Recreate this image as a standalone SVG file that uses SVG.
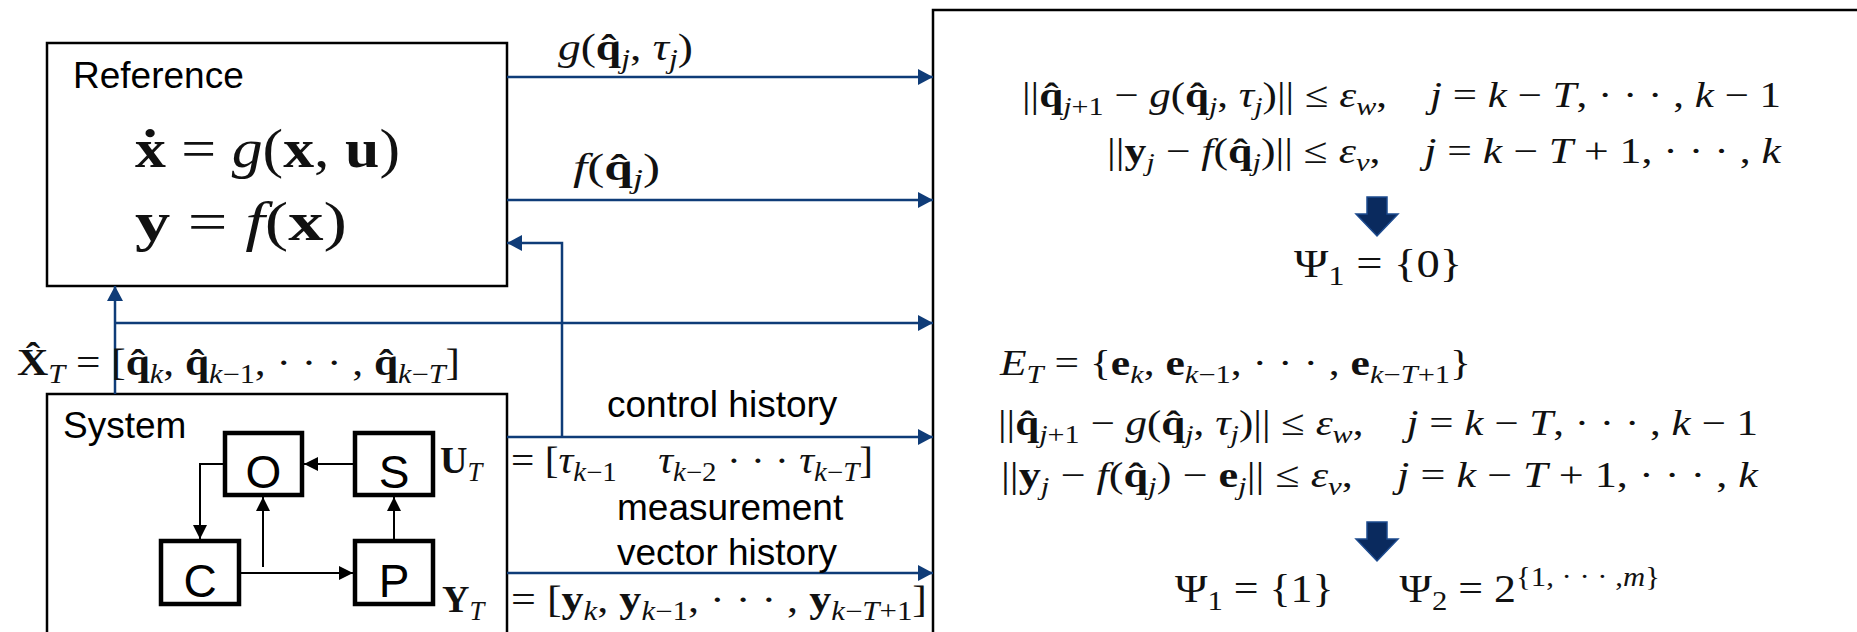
<svg xmlns="http://www.w3.org/2000/svg" width="1857" height="632" viewBox="0 0 1857 632">
<style>
.box{fill:#fff;stroke:#000;stroke-width:2.5}
.blk{fill:#fff;stroke:#000;stroke-width:4.5}
.lbl{font-family:"Liberation Sans",Arial,sans-serif;font-size:37px;fill:#000}
.big{font-family:"Liberation Sans",Arial,sans-serif;font-size:46px;fill:#000;text-anchor:middle}
.m{font-family:"Liberation Serif","DejaVu Serif",serif;fill:#111}
.i{font-style:italic}
.b{font-weight:bold}
.s{font-size:70%}
.bl{fill:none;stroke:#0f3c78;stroke-width:2.5}
.kl{fill:none;stroke:#000;stroke-width:2}
.darr{fill:#0a2a5e;stroke:#1d4b8f;stroke-width:1.5}
</style>
<defs>
<marker id="ab" viewBox="0 0 15 16" refX="15" refY="8" markerWidth="15" markerHeight="16" markerUnits="userSpaceOnUse" orient="auto"><path d="M0,0 L15,8 L0,16 Z" fill="#0f3c78"/></marker>
<marker id="ak" viewBox="0 0 14 14" refX="14" refY="7" markerWidth="14" markerHeight="14" markerUnits="userSpaceOnUse" orient="auto"><path d="M0,0 L14,7 L0,14 Z" fill="#000"/></marker>
</defs>
<rect width="1857" height="632" fill="#fff"/>

<g id="estimator">
<rect class="box" x="933" y="10" width="1000" height="700"/>
</g>

<g id="reference">
<rect class="box" x="47" y="43" width="460" height="243"/>
<text class="lbl" x="73" y="88">Reference</text>
<text class="m" x="135" y="167" font-size="54" textLength="265" lengthAdjust="spacingAndGlyphs"><tspan class="b">x&#x307;</tspan> = <tspan class="i">g</tspan>(<tspan class="b">x</tspan>, <tspan class="b">u</tspan>)</text>
<text class="m" x="135" y="240" font-size="54" textLength="212" lengthAdjust="spacingAndGlyphs"><tspan class="b">y</tspan> = <tspan class="i">f</tspan>(<tspan class="b">x</tspan>)</text>
</g>

<g id="system">
<rect class="box" x="47" y="394" width="460" height="300"/>
<text class="lbl" x="63" y="438">System</text>
</g>

<g id="node-O"><rect class="blk" x="225" y="433" width="77" height="62"/><text class="big" x="263.5" y="488">O</text></g>
<g id="node-S"><rect class="blk" x="355" y="433" width="78" height="62"/><text class="big" x="394" y="488">S</text></g>
<g id="node-C"><rect class="blk" x="161" y="541" width="78" height="63"/><text class="big" x="200" y="597">C</text></g>
<g id="node-P"><rect class="blk" x="355" y="541" width="78" height="63"/><text class="big" x="394" y="597">P</text></g>

<g id="connectors">
<path class="bl" d="M507,77 H933" marker-end="url(#ab)"/>
<path class="bl" d="M507,200 H933" marker-end="url(#ab)"/>
<path class="bl" d="M562,437 V243 H507" marker-end="url(#ab)"/>
<path class="bl" d="M115,394 V286" marker-end="url(#ab)"/>
<path class="bl" d="M115,323 H933" marker-end="url(#ab)"/>
<path class="bl" d="M507,437 H933" marker-end="url(#ab)"/>
<path class="bl" d="M507,573 H933" marker-end="url(#ab)"/>
<path class="kl" d="M353,464 H304" marker-end="url(#ak)"/>
<path class="kl" d="M223,464 H200 V539" marker-end="url(#ak)"/>
<path class="kl" d="M241,573 H353" marker-end="url(#ak)"/>
<path class="kl" d="M263,567 V497" marker-end="url(#ak)"/>
<path class="kl" d="M394,539 V497" marker-end="url(#ak)"/>
</g>

<g id="labels">
<text class="m" x="558" y="60" font-size="38" textLength="135" lengthAdjust="spacingAndGlyphs"><tspan class="i">g</tspan>(<tspan class="b">q&#x302;</tspan><tspan class="s i" dy="8">j</tspan><tspan dy="-8">, </tspan><tspan class="i">τ</tspan><tspan class="s i" dy="8">j</tspan><tspan dy="-8">)</tspan></text>
<text class="m" x="573" y="180" font-size="38" textLength="87" lengthAdjust="spacingAndGlyphs"><tspan class="i">f</tspan>(<tspan class="b">q&#x302;</tspan><tspan class="s i" dy="8">j</tspan><tspan dy="-8">)</tspan></text>
<text class="m" x="17" y="375" font-size="38" textLength="443" lengthAdjust="spacingAndGlyphs"><tspan class="b">X&#x302;</tspan><tspan class="s i" dy="8">T</tspan><tspan dy="-8"> = [</tspan><tspan class="b">q&#x302;</tspan><tspan class="s" dy="8"><tspan class="i">k</tspan></tspan><tspan dy="-8">, </tspan><tspan class="b">q&#x302;</tspan><tspan class="s" dy="8"><tspan class="i">k</tspan>−1</tspan><tspan dy="-8">, · · · , </tspan><tspan class="b">q&#x302;</tspan><tspan class="s" dy="8"><tspan class="i">k</tspan>−<tspan class="i">T</tspan></tspan><tspan dy="-8">]</tspan></text>
<text class="lbl" x="607" y="417">control history</text>
<text class="m" x="440" y="473" font-size="38"><tspan class="b">U</tspan><tspan class="s i" dy="8">T</tspan></text>
<text class="m" x="511" y="473" font-size="38" textLength="362" lengthAdjust="spacingAndGlyphs">= [<tspan class="i">τ</tspan><tspan class="s" dy="8"><tspan class="i">k</tspan>−1</tspan><tspan dy="-8">&#x2003;</tspan><tspan class="i">τ</tspan><tspan class="s" dy="8"><tspan class="i">k</tspan>−2</tspan><tspan dy="-8"> · · · </tspan><tspan class="i">τ</tspan><tspan class="s" dy="8"><tspan class="i">k</tspan>−<tspan class="i">T</tspan></tspan><tspan dy="-8">]</tspan></text>
<text class="lbl" x="617" y="520">measurement</text>
<text class="lbl" x="617" y="565">vector history</text>
<text class="m" x="442" y="612" font-size="38"><tspan class="b">Y</tspan><tspan class="s i" dy="8">T</tspan></text>
<text class="m" x="511" y="612" font-size="38" textLength="416" lengthAdjust="spacingAndGlyphs">= [<tspan class="b">y</tspan><tspan class="s" dy="8"><tspan class="i">k</tspan></tspan><tspan dy="-8">, </tspan><tspan class="b">y</tspan><tspan class="s" dy="8"><tspan class="i">k</tspan>−1</tspan><tspan dy="-8">, · · · , </tspan><tspan class="b">y</tspan><tspan class="s" dy="8"><tspan class="i">k</tspan>−<tspan class="i">T</tspan>+1</tspan><tspan dy="-8">]</tspan></text>
</g>

<g id="conditions">
<text class="m" x="1022" y="107" font-size="36" textLength="759" lengthAdjust="spacingAndGlyphs">||<tspan class="b">q&#x302;</tspan><tspan class="s" dy="8"><tspan class="i">j</tspan>+1</tspan><tspan dy="-8"> − </tspan><tspan class="i">g</tspan>(<tspan class="b">q&#x302;</tspan><tspan class="s i" dy="8">j</tspan><tspan dy="-8">, </tspan><tspan class="i">τ</tspan><tspan class="s i" dy="8">j</tspan><tspan dy="-8">)|| ≤ </tspan><tspan class="i">ε</tspan><tspan class="s i" dy="8">w</tspan><tspan dy="-8">,&#x2003;</tspan><tspan class="i">j</tspan> = <tspan class="i">k</tspan> − <tspan class="i">T</tspan>, · · · , <tspan class="i">k</tspan> − 1</text>
<text class="m" x="1107" y="163" font-size="36" textLength="674" lengthAdjust="spacingAndGlyphs">||<tspan class="b">y</tspan><tspan class="s i" dy="8">j</tspan><tspan dy="-8"> − </tspan><tspan class="i">f</tspan>(<tspan class="b">q&#x302;</tspan><tspan class="s i" dy="8">j</tspan><tspan dy="-8">)|| ≤ </tspan><tspan class="i">ε</tspan><tspan class="s i" dy="8">v</tspan><tspan dy="-8">,&#x2003;</tspan><tspan class="i">j</tspan> = <tspan class="i">k</tspan> − <tspan class="i">T</tspan> + 1, · · · , <tspan class="i">k</tspan></text>
<path class="darr" d="M1367,197 H1387 V214 H1398 L1377,236 L1356,214 H1367 Z"/>
<text class="m" x="1294" y="277" font-size="40" textLength="168" lengthAdjust="spacingAndGlyphs">Ψ<tspan class="s" dy="8">1</tspan><tspan dy="-8"> = {0}</tspan></text>
<text class="m" x="1000" y="375" font-size="36" textLength="471" lengthAdjust="spacingAndGlyphs"><tspan class="i">E</tspan><tspan class="s i" dy="8">T</tspan><tspan dy="-8"> = {</tspan><tspan class="b">e</tspan><tspan class="s i" dy="8">k</tspan><tspan dy="-8">, </tspan><tspan class="b">e</tspan><tspan class="s" dy="8"><tspan class="i">k</tspan>−1</tspan><tspan dy="-8">, · · · , </tspan><tspan class="b">e</tspan><tspan class="s" dy="8"><tspan class="i">k</tspan>−<tspan class="i">T</tspan>+1</tspan><tspan dy="-8">}</tspan></text>
<text class="m" x="998" y="435" font-size="36" textLength="760" lengthAdjust="spacingAndGlyphs">||<tspan class="b">q&#x302;</tspan><tspan class="s" dy="8"><tspan class="i">j</tspan>+1</tspan><tspan dy="-8"> − </tspan><tspan class="i">g</tspan>(<tspan class="b">q&#x302;</tspan><tspan class="s i" dy="8">j</tspan><tspan dy="-8">, </tspan><tspan class="i">τ</tspan><tspan class="s i" dy="8">j</tspan><tspan dy="-8">)|| ≤ </tspan><tspan class="i">ε</tspan><tspan class="s i" dy="8">w</tspan><tspan dy="-8">,&#x2003;</tspan><tspan class="i">j</tspan> = <tspan class="i">k</tspan> − <tspan class="i">T</tspan>, · · · , <tspan class="i">k</tspan> − 1</text>
<text class="m" x="1001" y="487" font-size="36" textLength="757" lengthAdjust="spacingAndGlyphs">||<tspan class="b">y</tspan><tspan class="s i" dy="8">j</tspan><tspan dy="-8"> − </tspan><tspan class="i">f</tspan>(<tspan class="b">q&#x302;</tspan><tspan class="s i" dy="8">j</tspan><tspan dy="-8">) − </tspan><tspan class="b">e</tspan><tspan class="s i" dy="8">j</tspan><tspan dy="-8">|| ≤ </tspan><tspan class="i">ε</tspan><tspan class="s i" dy="8">v</tspan><tspan dy="-8">,&#x2003;</tspan><tspan class="i">j</tspan> = <tspan class="i">k</tspan> − <tspan class="i">T</tspan> + 1, · · · , <tspan class="i">k</tspan></text>
<path class="darr" d="M1367,522 H1387 V539 H1398 L1377,561 L1356,539 H1367 Z"/>
<text class="m" x="1175" y="602" font-size="40" textLength="485" lengthAdjust="spacingAndGlyphs">Ψ<tspan class="s" dy="8">1</tspan><tspan dy="-8"> = {1}&#x2003;&#x2002;Ψ</tspan><tspan class="s" dy="8">2</tspan><tspan dy="-8"> = 2</tspan><tspan class="s" dy="-16">{1, · · · ,<tspan class="i">m</tspan>}</tspan></text>
</g>
</svg>
